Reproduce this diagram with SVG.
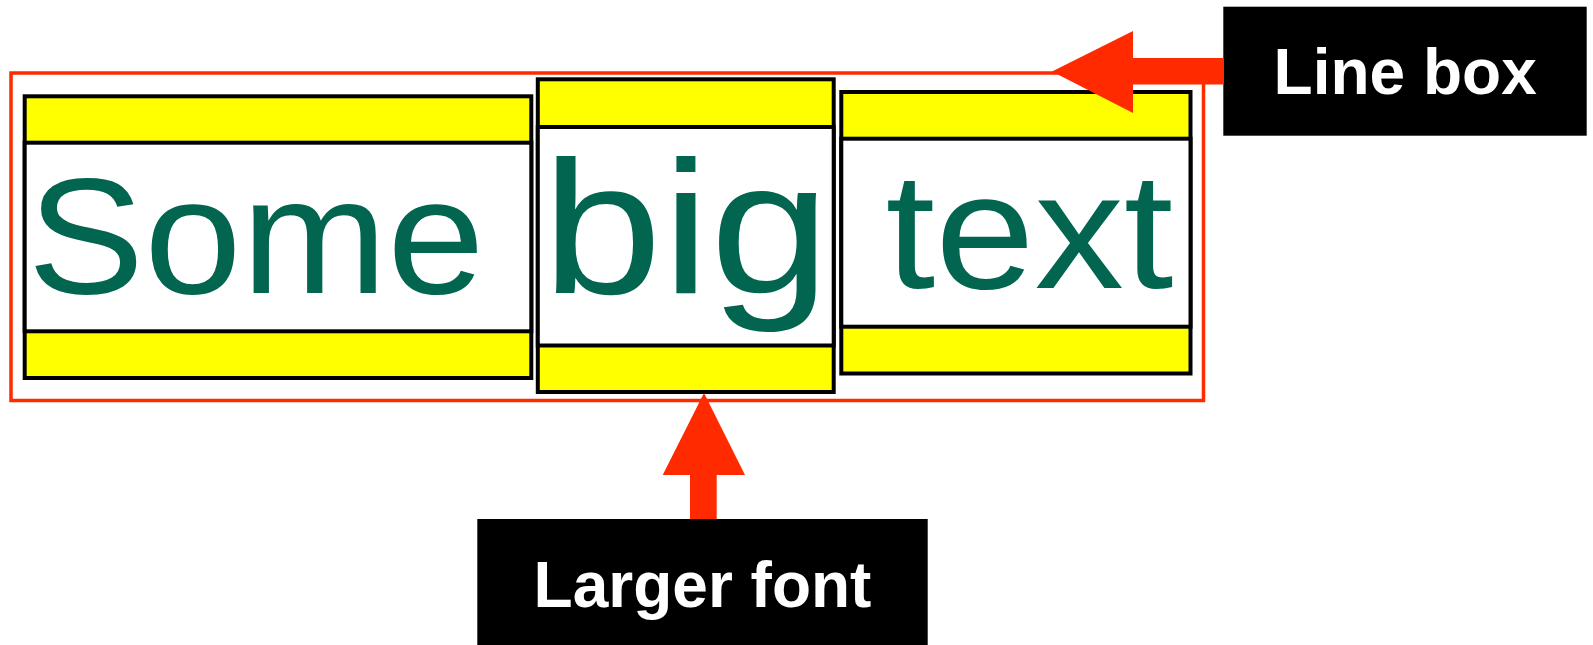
<svg xmlns="http://www.w3.org/2000/svg" width="1593" height="645" viewBox="0 0 1593 645">
  <style>
    .band { fill: #ffff00; stroke: #000000; stroke-width: 4; }
    .content { fill: #ffffff; stroke: #000000; stroke-width: 4; }
    .word { font-family: "Liberation Sans", Arial, Helvetica, sans-serif; fill: #02654f; }
    .label-bg { fill: #000000; }
    .label { font-family: "Liberation Sans", Arial, Helvetica, sans-serif; font-weight: bold; font-size: 64px; fill: #ffffff; }
    .pointer { fill: #ff2a00; }
  </style>
  <rect width="1593" height="645" fill="#ffffff"/>

  <!-- the line box that wraps all three inline boxes -->
  <g id="line-box">
    <rect x="11" y="73" width="1192.5" height="327.5" fill="none" stroke="#ff2a00" stroke-width="3.5"/>
  </g>

  <!-- inline box: "Some" -->
  <g id="box-some">
    <rect class="band" x="24.7" y="96.3" width="506.6" height="281.7"/>
    <rect class="content" x="24.7" y="142.7" width="506.6" height="188.6"/>
    <text class="word" x="27.5" y="292.7" font-size="165" textLength="457" lengthAdjust="spacingAndGlyphs">Some</text>
  </g>

  <!-- inline box: "big" (larger font, taller box) -->
  <g id="box-big">
    <rect class="band" x="537.8" y="79.3" width="295.9" height="312.7"/>
    <rect class="content" x="537.8" y="127" width="295.9" height="218.5"/>
    <text class="word" x="542" y="293.3" font-size="190" textLength="288" lengthAdjust="spacingAndGlyphs">big</text>
  </g>

  <!-- inline box: "text" -->
  <g id="box-text">
    <rect class="band" x="841.3" y="92" width="349.2" height="281.5"/>
    <rect class="content" x="841.3" y="138.7" width="349.2" height="188"/>
    <text class="word" x="885.5" y="288.3" font-size="165" textLength="288" lengthAdjust="spacingAndGlyphs">text</text>
  </g>

  <!-- callout labels -->
  <g id="label-line-box">
    <rect class="label-bg" x="1223.3" y="6.7" width="363.4" height="129"/>
    <text class="label" x="1273.6" y="94">Line box</text>
  </g>
  <g id="label-larger-font">
    <rect class="label-bg" x="477.3" y="519" width="450.4" height="126"/>
    <text class="label" x="533.6" y="606.7">Larger font</text>
  </g>

  <!-- pointer arrows -->
  <g id="connectors">
    <polygon class="pointer" points="1052,71.5 1133,31 1133,58 1224,58 1224,84.5 1133,84.5 1133,113"/>
    <polygon class="pointer" points="704,393 745,475 716.7,475 716.7,519 690,519 690,475 662.7,475"/>
  </g>
</svg>
